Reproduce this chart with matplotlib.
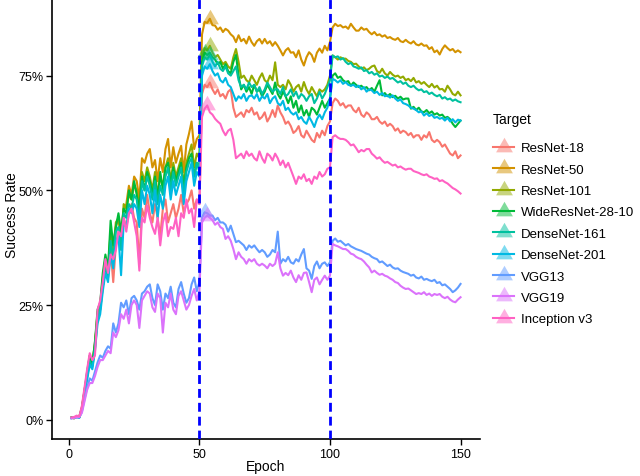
import numpy as np
import matplotlib
matplotlib.use("Agg")
import matplotlib.pyplot as plt
from matplotlib.lines import Line2D
from matplotlib.legend_handler import HandlerTuple
from matplotlib.ticker import PercentFormatter

plt.rcParams['font.family'] = ['Liberation Sans', 'DejaVu Sans']

epochs = np.arange(1, 151)

targets = ["ResNet-18", "ResNet-50", "ResNet-101", "WideResNet-28-10", "DenseNet-161",
           "DenseNet-201", "VGG13", "VGG19", "Inception v3"]
colors = ["#F8766D", "#D39200", "#93AA00", "#00BA38", "#00C19F",
          "#00B9E3", "#619CFF", "#DB72FB", "#FF61C3"]

# success rate (%) per epoch
resnet18 = [
    0.4, 0.3, 0.6, 0.5, 2.8, 6.5, 10, 14, 12, 17, 22, 24, 29, 33, 31, 37, 30, 38, 41, 39,
    44, 42, 45, 47, 44, 43, 34, 46, 44, 49, 45, 43, 47, 44, 40, 46, 48, 43, 45, 47,
    44, 46, 49, 45, 47, 48, 50, 46, 48, 47,
    71, 73, 72.5, 73.5, 72, 71, 72, 70.5, 71, 70, 71.5, 72, 68, 66, 66.5, 67, 66, 67.5, 67, 68,
    66.5, 67, 65.5, 66, 67, 65, 66, 67.5, 66, 68.5, 67, 66, 64.5, 65, 64, 62.5, 63, 64, 62, 61.5,
    63, 62, 61, 60.5, 62.5, 61.5, 63, 62, 64, 65,
    69, 70, 69.5, 68.5, 69, 68, 68.5, 68.5, 67.5, 67, 68, 66.5, 66, 67, 66.5, 65.5, 65.5, 66, 65, 64.5,
    65, 64, 64.5, 64, 63, 63.5, 62.5, 63, 62.7, 62, 62.5, 61.5, 62, 62, 61, 62, 61.5, 62.7, 61, 60.5,
    61, 60.5, 59.5, 60, 59, 58, 57.6, 58.5, 57, 57.6]
resnet50 = [
    0.5, 0.4, 0.7, 0.6, 2.5, 6, 9.5, 13, 12, 16, 23, 25, 30, 34, 32, 39, 36, 42, 44, 40,
    46, 47, 51, 49, 53, 52, 48, 57, 56, 58, 59, 55, 56.6, 52, 57, 54, 59, 61.2, 55, 59.4,
    56, 58, 59.7, 54, 60, 62.3, 65, 59, 61.2, 62,
    84, 86.7, 86.5, 87.4, 86, 85.9, 85, 85.5, 84.5, 85.2, 84.8, 84, 83.5, 82.3, 83.8, 82.5, 83, 82, 83.5, 82.3,
    81.5, 82.5, 83, 82, 83, 82, 82.5, 81.5, 82.3, 81.5, 80.5, 79.4, 80.5, 81, 80, 80.1, 79, 80.5, 78.5, 77.2,
    79, 80.1, 79.5, 78, 80, 80.9, 80, 81.5, 80.5, 82.3,
    85.5, 86.3, 85.8, 86, 85.5, 85.7, 85.2, 86.3, 85.5, 84.8, 84.8, 85.5, 85, 85.2, 84.5, 84, 84.5, 83.8, 84, 83.5,
    83.8, 83.2, 83.4, 83, 82.8, 83.2, 82.5, 82.3, 82.8, 82.3, 82, 82.5, 81.8, 81.6, 82, 81.5, 81.6, 80.8, 81.2, 80.1,
    80.5, 79.6, 80.8, 81.6, 81, 80.5, 80.8, 80.1, 80.5, 80.1]
resnet101 = [
    0.4, 0.5, 0.6, 0.7, 2.6, 6.2, 9.8, 13.5, 12.5, 16.5, 23.5, 25, 31, 35, 33, 41, 37, 43, 44, 39,
    47, 46, 49, 48, 51, 50, 45, 54, 52, 55, 53, 50, 54, 49, 53, 51, 55, 57, 52, 56,
    53, 55, 57, 51, 56, 58, 60, 55, 58, 57,
    79, 81, 80.5, 81.5, 80, 79, 79.5, 78.5, 77.5, 78, 77, 76.5, 79, 80.8, 78, 74.5, 75, 74, 73.5, 75,
    74, 73, 74.5, 75.5, 74, 73.5, 75, 74, 77.9, 73, 72.5, 73, 72, 74, 73, 71.5, 72.5, 73, 71.5, 73.6,
    72, 71, 72.5, 71.5, 70.5, 72, 71.5, 72, 73, 75,
    79.4, 79, 78.5, 79, 78.7, 78.7, 78.2, 78, 77.5, 77.6, 77, 76.5, 76.8, 76.2, 76.5, 77, 77.2, 76, 75.6, 76.5,
    75.5, 75, 75.8, 75.2, 74.8, 75, 74.5, 74.8, 74, 74.3, 73.8, 74.5, 73.5, 73.8, 73.2, 73.6, 73, 72.5, 73.2, 72.4,
    72.8, 72, 72.1, 71.5, 72.8, 72, 71, 70.7, 71.5, 70.7]
wideresnet = [
    0.5, 0.3, 0.7, 0.5, 2.4, 6.3, 10.5, 14, 12, 17, 24, 25.5, 32, 36, 33, 43.4, 38, 42, 45, 41,
    46, 45, 50, 48, 52, 49, 46, 53, 50, 54, 52, 49, 53, 48, 54, 50, 55, 56, 51, 55,
    52, 54, 56, 50, 55, 57, 58, 53, 56, 55,
    78, 80, 79.5, 80, 79, 78.5, 77.5, 78, 76.5, 77.5, 76, 75.5, 78, 79.5, 75, 72, 73, 71.5, 72.5, 71,
    73, 71.5, 72, 70.5, 71.5, 73, 72, 71, 73.5, 71, 70, 71.5, 70.5, 69, 70.5, 68, 69.5, 67, 68.5, 66.3,
    67.5, 66, 68, 67.5, 66.5, 68, 69.5, 68, 69, 70,
    75, 75.5, 74.5, 74.8, 74, 73.6, 73.8, 72.8, 73.5, 73, 72.5, 72.8, 72.2, 72.5, 71.8, 72.3, 71.5, 72.8, 74, 70.7,
    71.2, 70.5, 71, 70.3, 70.6, 70, 70.4, 69.8, 70, 70, 67.8, 68.2, 67.5, 68, 67.2, 67, 67.5, 66.8, 67.2, 66.5,
    66.8, 66.3, 66.5, 65.8, 66, 65.5, 64.5, 63.8, 64.5, 65.2]
densenet161 = [
    0.4, 0.4, 0.5, 0.6, 2.2, 5.8, 9.2, 12.8, 11.5, 15.5, 22, 24, 29, 33, 31, 39, 35, 41, 42, 37,
    45, 44, 47, 46, 49, 48, 43, 52, 50, 53, 51, 48, 52, 47, 51, 49, 53, 55, 50, 54,
    51, 53, 55, 49, 54, 56, 57, 53, 56, 54,
    77, 79, 78.5, 79.5, 78, 77, 78, 76.5, 76, 77, 75.5, 75, 76, 77, 74, 72.5, 73, 72, 73.5, 72.5,
    73, 71.5, 72.5, 71, 72, 73.5, 72.5, 71.5, 72, 72, 71, 72.5, 70.5, 71, 72, 70.5, 71.5, 70, 71, 70.5,
    69.5, 70.5, 71, 69, 70, 71.5, 70, 71, 72.5, 74,
    79.4, 79, 79.2, 78.5, 78.8, 78, 77.5, 77.8, 77, 76.8, 76.5, 76.8, 76, 76.2, 75.5, 75.8, 75.2, 75.5, 74.8, 75,
    74.5, 74.8, 74.3, 74.5, 74, 73.5, 73.8, 73.2, 73.5, 72.8, 72.5, 72.8, 72.2, 71.8, 72, 71.4, 71.6, 71, 71.3, 70.8,
    70.5, 70.8, 70, 70.3, 69.8, 70, 69.5, 69.8, 69.4, 69.2]
densenet201 = [
    0.3, 0.5, 0.6, 0.4, 2.0, 5.5, 8.8, 12, 11, 15, 21, 23, 28, 32, 30, 36, 33, 39, 40, 31.5,
    43, 42, 46, 45, 47, 46, 42, 50, 47, 51, 49, 45, 50, 44, 49, 46, 51, 53, 48, 52,
    49, 51, 53, 47, 52, 54, 56, 51, 54, 53,
    75, 77, 76.5, 77.5, 76, 75, 75.5, 74, 73.5, 74.5, 73, 72.5, 71, 69.5, 70.5, 70, 71, 69.5, 70.5, 70.7,
    70, 71, 69.5, 70.5, 70, 71, 69, 70, 70.5, 69, 68.5, 69.5, 67.5, 68, 67, 66.5, 67, 65.5, 66, 65,
    64.5, 66, 65, 63.8, 65.5, 66.5, 65.5, 67, 68, 70,
    74.3, 74, 73.5, 74, 73.2, 73.6, 73, 72.8, 73, 72.5, 72.8, 72, 72.5, 71.5, 72, 71.8, 71.2, 71.5, 70.8, 71.2,
    70.5, 70.7, 70.2, 70.7, 70, 69.5, 69.8, 69, 68.8, 68.5, 68, 67.8, 67.5, 67, 67.2, 66.3, 66.8, 66.2, 66.5, 65.8,
    66, 65.6, 65.8, 65.2, 65.8, 65, 65.5, 64.8, 65.4, 65.2]
vgg13 = [
    0.4, 0.5, 0.6, 0.5, 1.8, 4.5, 7, 9, 8.5, 10.5, 12.5, 14, 13.5, 15, 16, 15.5, 21, 19, 21, 25.5,
    24.5, 26, 23, 26.5, 27, 26, 24, 27.5, 28, 29, 29.5, 26.5, 25, 29.5, 28, 24, 27.5, 26.5, 29, 25.5,
    24.5, 28.5, 30, 27.5, 25.5, 26.5, 29.5, 31, 28, 30,
    44, 45.2, 45, 44.5, 44.5, 43.5, 44, 43, 43, 42.5, 41, 42.3, 40.5, 38.7, 39, 38.5, 38, 37, 38, 37.5,
    38, 37.2, 36.5, 37, 36.5, 35.5, 36, 37, 36.5, 41, 34, 35, 34.5, 35.5, 34.3, 34, 35, 34.5, 36, 37.2,
    33, 32.5, 30.7, 33.5, 34.5, 33, 34, 34.3, 33.5, 34.3,
    39, 39.5, 38.8, 39, 38.5, 38, 38.3, 37.8, 37.5, 37.2, 37, 36.8, 36.5, 36.2, 36, 35.5, 35.2, 35, 34.3, 34.5,
    34, 33.5, 33.8, 33.2, 32.9, 33, 32.5, 32.2, 32, 31.8, 31.4, 31.6, 31, 30.8, 31.2, 30.5, 30.7, 30.4, 30.2, 30.5,
    29.8, 30, 29.3, 29.5, 29, 28.5, 27.8, 28.2, 28.8, 29.6]
vgg19 = [
    0.3, 0.4, 0.5, 0.6, 1.5, 4, 6.5, 8, 8, 9.5, 11.5, 13, 13, 14, 15, 14.5, 19, 18, 19.5, 23,
    22, 24, 21, 25, 26, 25, 20, 26, 27, 28, 27.5, 24.5, 23.5, 27.5, 26.5, 19, 25.5, 24.5, 27.5, 24,
    23, 27, 28, 26, 24, 25, 27, 28.5, 26, 28,
    43, 44, 44.5, 44, 43.5, 42.5, 43, 42, 41.6, 39.4, 40, 39, 37.2, 35, 36.5, 35.5, 35, 34, 35, 34.5,
    35, 34, 33.6, 34, 33.6, 33, 34, 33.5, 34, 36.5, 33, 31.4, 32, 31.5, 32.5, 31, 30, 31.5, 30.5, 32,
    32.1, 30, 27.8, 30.5, 31, 29.5, 30.5, 31.4, 30.5, 31.4,
    38.3, 38, 37.8, 37.5, 37.2, 37.2, 36.8, 36.2, 36, 35.5, 35.2, 35, 34.5, 33.8, 33.2, 32.1, 32.5, 32, 31.6, 31.8,
    31.4, 31.2, 30.8, 30.5, 30, 29.8, 29.2, 28.8, 28.5, 28.6, 28.2, 27.8, 27.4, 27.6, 27.4, 27.8, 27.2, 27.5, 27, 27.4,
    27.2, 27.4, 26.8, 26.5, 26.8, 26.2, 25.8, 25.6, 26.2, 26.7]
inception = [
    0.5, 0.6, 0.9, 0.7, 3, 7, 11, 14.5, 13, 14, 24, 26, 30, 35, 32, 36, 35, 37, 41, 40,
    44, 41, 45, 46, 43, 40, 32.5, 44, 43, 46.7, 44, 42, 40.5, 44, 38, 43, 45, 40, 42, 41.6,
    44, 40, 45, 44, 48, 45, 46, 42, 48, 47,
    66, 67.8, 68.5, 67, 66.5, 65.6, 65, 64.5, 63, 62, 63, 63.4, 61, 57, 57.5, 58, 57, 58.5, 57.5, 58,
    57, 56.5, 58.5, 57, 56, 58, 57.5, 56.5, 58, 57, 55.5, 56.5, 55, 56, 54.5, 53, 51.4, 53, 52.5, 53.5,
    52, 52.5, 51.4, 53, 52.5, 54, 53, 53.5, 54.7, 55,
    61.6, 62, 61.5, 61.2, 61.2, 61, 60.5, 59.8, 60, 59.2, 58.3, 58.8, 58.5, 59, 59, 58, 57.5, 56.9, 57.2, 56.5,
    56, 56.2, 55.8, 55.4, 55.6, 55, 55.2, 54.8, 54.5, 54.7, 54.7, 54.2, 54, 53.8, 53.5, 53.3, 53.5, 53, 52.8, 52.5,
    52.6, 52, 52.2, 51.8, 51.5, 51, 50.5, 50.2, 49.8, 49.3]

series = [resnet18, resnet50, resnet101, wideresnet, densenet161,
          densenet201, vgg13, vgg19, inception]
phase_breaks = [50, 100]

# triangle centred on its centroid, like R's pch 17
tri = [(0, 1), (-0.866, -0.5), (0.866, -0.5), (0, 1)]

fig = plt.figure(figsize=(6.4, 4.77), dpi=100)
ax = fig.add_axes([52 / 640, 37 / 477, 428 / 640, 440 / 477])

handles = []
for name, vals, col in zip(targets, series, colors):
    vals = np.array(vals)
    ax.plot(epochs, vals, color=col, lw=1.5, zorder=2)
    i = int(np.argmax(vals))
    ax.plot(epochs[i], vals[i], marker=tri, ms=14, color=col, alpha=0.5,
            linestyle='none', markeredgewidth=0, zorder=3)
    h_mark = Line2D([], [], marker=tri, ms=14, color=col, alpha=0.5,
                    linestyle='none', markeredgewidth=0)
    h_line = Line2D([], [], color=col, lw=1.5)
    handles.append((h_mark, h_line))

for b in phase_breaks:
    ax.axvline(b, color='#0000FF', lw=2, dashes=(3.2, 1.8), zorder=4)

ax.set_xlim(-6.45, 157.45)
ax.set_ylim(-4.2, 91.7)
ax.set_xticks([0, 50, 100, 150])
ax.set_yticks([0, 25, 50, 75])
ax.yaxis.set_major_formatter(PercentFormatter(xmax=100, decimals=0))
ax.tick_params(labelsize=9, colors='black', length=4, width=1, pad=2.2)
ax.spines['top'].set_visible(False)
ax.spines['right'].set_visible(False)
for s in ['left', 'bottom']:
    ax.spines[s].set_linewidth(1.2)
ax.set_xlabel("Epoch", fontsize=10, va='center')
ax.xaxis.set_label_coords(0.5, -27 / 440)
ax.set_ylabel("Success Rate", fontsize=10, va='center')
ax.yaxis.set_label_coords(-40 / 428, 0.51)

fig.text(493 / 640, 1 - 120 / 477, "Target", fontsize=10, va='center', ha='left')
leg = fig.legend(handles, targets, handler_map={tuple: HandlerTuple(ndivide=1)},
                 loc='upper left', bbox_to_anchor=(484 / 640, 1 - 134 / 477),
                 frameon=False, fontsize=9.5,
                 handlelength=1.6, handletextpad=0.5, labelspacing=0.69,
                 borderpad=0.2)

fig.savefig("out.png", dpi=100)
